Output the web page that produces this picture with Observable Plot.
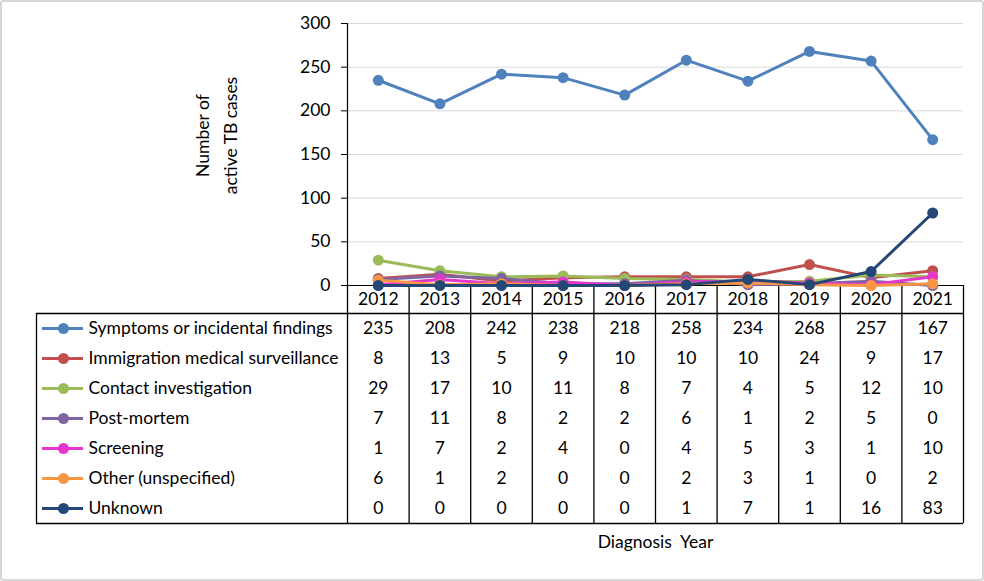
<!DOCTYPE html>
<html><head><meta charset="utf-8">
<script src="https://cdn.jsdelivr.net/npm/d3@7"></script>
<script src="https://cdn.jsdelivr.net/npm/@observablehq/plot@0.6"></script>
<style>
body{margin:0;background:#fff;}
#wrap{position:relative;width:984px;height:581px;overflow:hidden;background:#fff;font-family:Lato,sans-serif;}
#wrap svg{position:absolute;left:0;overflow:visible;background:transparent;}
#frame{position:absolute;left:0;top:0;width:984px;height:581px;box-sizing:border-box;border:2px solid #d6d6d6;border-radius:3px;pointer-events:none;z-index:5;}
</style></head><body>
<div id="wrap"><div id="frame"></div></div>
<script>
const years = [2012, 2013, 2014, 2015, 2016, 2017, 2018, 2019, 2020, 2021];
const seriesNames = ["Symptoms or incidental findings", "Immigration medical surveillance", "Contact investigation", "Post-mortem", "Screening", "Other (unspecified)", "Unknown"];
const seriesColors = ["#4F81BD", "#C0504D", "#9BBB59", "#8064A2", "#E535CF", "#F79646", "#254776"];
const symptoms = [235, 208, 242, 238, 218, 258, 234, 268, 257, 167];
const immigration = [8, 13, 5, 9, 10, 10, 10, 24, 9, 17];
const contact = [29, 17, 10, 11, 8, 7, 4, 5, 12, 10];
const postMortem = [7, 11, 8, 2, 2, 6, 1, 2, 5, 0];
const screening = [1, 7, 2, 4, 0, 4, 5, 3, 1, 10];
const other = [6, 1, 2, 0, 0, 2, 3, 1, 0, 2];
const unknown = [0, 0, 0, 0, 0, 1, 7, 1, 16, 83];
const yTicks = [0, 50, 100, 150, 200, 250, 300];
const yLabel = "Number of\nactive TB cases";
const xLabel = "Diagnosis  Year";

const seriesValues = [symptoms, immigration, contact, postMortem, screening, other, unknown];
const long = seriesNames.flatMap((s, i) => seriesValues[i].map((v, j) => ({series: s, row: i, year: years[j], value: v})));

const FS = 17.5;
const colW = 61.6;               // pixel width of one year column
const xDomain = [years[0] - 0.5, years[years.length - 1] + 0.5];
const font = {fontFamily: "Lato, sans-serif", fontSize: FS + "px", color: "#000", background: "transparent", overflow: "visible"};
const colorScale = {domain: seriesNames, range: seriesColors};

const chart = Plot.plot({
  width: 984, height: 286,
  marginTop: 23, marginBottom: 1, marginLeft: 347, marginRight: 21,
  style: font,
  x: {domain: xDomain, axis: null},
  y: {domain: [0, 300], axis: null},
  color: colorScale,
  marks: [
    Plot.ruleY(yTicks.filter(d => d > 0), {stroke: "#d9d9d9", strokeWidth: 1}),
    Plot.axisY({ticks: yTicks, label: null, tickSize: 6, tickPadding: 11, stroke: "#000", fontSize: FS}),
    Plot.ruleX([xDomain[0]], {y1: 0, y2: 300, stroke: "#000", strokeWidth: 1.2}),
    Plot.ruleY([0], {stroke: "#000", strokeWidth: 1.2}),
    ...seriesNames.flatMap(s => {
      const d = long.filter(r => r.series === s);
      return [
        Plot.line(d, {x: "year", y: "value", stroke: "series", strokeWidth: 3}),
        Plot.dot(d, {x: "year", y: "value", fill: "series", r: 5.5})
      ];
    }),
    Plot.text([yLabel], {frameAnchor: "left", dx: -133, dy: -19, rotate: -90, textAnchor: "middle", lineHeight: 1.6, fontSize: FS, fill: "#000"})
  ]
});

const labelW = 311 / colW;
const x0 = xDomain[0] - labelW;
const headerH = 28 / 30;
const boundaries = d3.range(years.length + 1).map(k => xDomain[0] + k);

const table = Plot.plot({
  width: 984, height: 296,
  style: font,
  x: {domain: [x0, xDomain[1]], range: [36, 963], axis: null},
  y: {domain: [-headerH, 268 / 30], range: [0, 296], axis: null},
  color: colorScale,
  marks: [
    Plot.ruleY([0, seriesNames.length], {x1: x0, x2: xDomain[1], stroke: "#000", strokeWidth: 1.3}),
    Plot.ruleX([x0], {y1: 0, y2: seriesNames.length, stroke: "#000", strokeWidth: 1.3}),
    Plot.ruleX(boundaries, {y1: -headerH, y2: seriesNames.length, stroke: "#000", strokeWidth: 1.3}),
    Plot.text(years, {x: d => d, y: -headerH / 2, text: d => String(d), fontSize: FS, fill: "#000"}),
    Plot.text(long, {x: "year", y: d => d.row + 0.5, text: d => String(d.value), fontSize: FS, fill: "#000"}),
    Plot.ruleY(seriesNames, {y: (d, i) => i + 0.5, x1: x0 + 6 / colW, x2: x0 + 47 / colW, stroke: d => d, strokeWidth: 3}),
    Plot.dot(seriesNames, {x: x0 + 27 / colW, y: (d, i) => i + 0.5, fill: d => d, r: 5.5}),
    Plot.text(seriesNames, {x: x0 + 52 / colW, y: (d, i) => i + 0.5, text: d => d, textAnchor: "start", fontSize: FS, fill: "#000"}),
    Plot.text([xLabel], {x: (xDomain[0] + xDomain[1]) / 2, y: 7.63, fontSize: FS, fill: "#000"})
  ]
});

const wrap = document.getElementById("wrap");
table.style.top = "285px";
table.style.zIndex = 1;
chart.style.top = "0px";
chart.style.zIndex = 2;
wrap.appendChild(table);
wrap.appendChild(chart);
</script>
</body></html>
